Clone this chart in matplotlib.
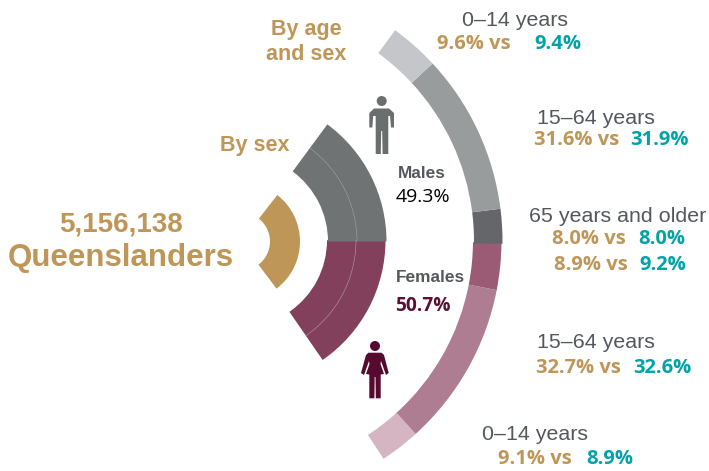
import matplotlib
matplotlib.use("Agg")
import matplotlib.pyplot as plt
from matplotlib.patches import Wedge, Circle, Polygon, Arc

# Data
headline_total = "5,156,138"
headline_name = "Queenslanders"
sex_labels = ["Males", "Females"]
sex_values = ["49.3%", "50.7%"]
sex_sweeps = [53.6, 55.4]              # degrees, above and below the horizontal
sex_colors = ["#6F7373", "#83405C"]

ring_sweeps = [11.0, 35.7, 7.7, 10.5, 36.8, 8.9]   # degrees, top to bottom
ring_colors = ["#C5C6C9", "#999C9C", "#65666A", "#9C5B74", "#AE7D92", "#D5B5C2"]
ring_start = 53.9

age_labels = ["0–14 years", "15–64 years", "65 years and older", "15–64 years", "0–14 years"]
qld_values = ["9.6% vs", "31.6% vs", "8.0% vs", "8.9% vs", "32.7% vs", "9.1% vs"]
other_values = ["9.4%", "31.9%", "8.0%", "9.2%", "32.6%", "8.9%"]

GOLD, TEAL, GREY, PLUM = "#BE9658", "#00A3A8", "#54585D", "#5A0F35"
SANS, NUM = "Liberation Sans", "Open Sans"

W, H = 709, 471
fig = plt.figure(figsize=(W / 100, H / 100), dpi=100)
ax = fig.add_axes([0, 0, 1, 1])
ax.set_xlim(0, W)
ax.set_ylim(H, 0)
ax.axis("off")

UPPER = (241, 241.5)
LOWER = (240, 240.2)


def wedge(top, bottom, r_in, r_out, color, centre):
    # y axis is inverted: a positive picture angle is a negative data angle
    ax.add_patch(Wedge(centre, r_out, -top, -bottom, width=r_out - r_in,
                       facecolor=color, edgecolor="none", lw=0))


# centre gold arc
wedge(52, -53, 29, 59, GOLD, UPPER)

# sex ring (lower half first, the upper half sits on its top edge)
wedge(0, -sex_sweeps[1], 87, 145.5, sex_colors[1], LOWER)
wedge(sex_sweeps[0], 0, 87, 145.5, sex_colors[0], UPPER)
ax.add_patch(Arc(UPPER, 232, 232, theta1=-sex_sweeps[0], theta2=0, color="#A0A4A4", lw=0.4))
ax.add_patch(Arc(LOWER, 232, 232, theta1=0, theta2=sex_sweeps[1], color="#B79CA9", lw=0.4))

# age-by-sex ring, bottom segment first
angles = [ring_start]
for sweep in ring_sweeps:
    angles.append(angles[-1] - sweep)
for i in reversed(range(len(ring_sweeps))):
    centre = UPPER if i < 3 else LOWER
    wedge(angles[i], angles[i + 1], 233, 261.5, ring_colors[i], centre)


def txt(x, y, s, color, size, family=SANS, weight="normal", ha="center"):
    ax.text(x, y, s, color=color, fontsize=size, family=family, weight=weight,
            ha=ha, va="center")


txt(121, 225, headline_total, GOLD, 20, weight="bold")
txt(120.5, 258, headline_name, GOLD, 22.5, weight="bold")
txt(306.5, 29, "By age", GOLD, 15.5, weight="bold")
txt(306.5, 55, "and sex", GOLD, 15.5, weight="bold")
txt(254.5, 145, "By sex", GOLD, 15.5, weight="bold")

txt(421.5, 173, sex_labels[0], GREY, 12.4, weight="bold")
txt(422.5, 197, sex_values[0], "#000000", 14, family=NUM)
txt(430.5, 277, sex_labels[1], GREY, 12.4, weight="bold")
txt(423, 306, sex_values[1], PLUM, 13.8, family=NUM, weight="bold")

# age labels: centre x, centre y
label_pos = [(515.5, 21), (595.5, 118), (618, 216), (595.5, 343), (534.5, 434)]
for (x, y), s in zip(label_pos, age_labels):
    txt(x, y, s, GREY, 15.4)

qld_pos = [(473.5, 44), (577, 140), (588.5, 239), (591, 265), (578, 368), (534.5, 459)]
other_pos = [(558, 44), (659, 140), (662, 239), (663, 265), (662, 368), (610, 459)]
for (x, y), s in zip(qld_pos, qld_values):
    txt(x, y, s, GOLD, 14.5, family=NUM, weight="bold")
for (x, y), s in zip(other_pos, other_values):
    txt(x, y, s, TEAL, 14.5, family=NUM, weight="bold")

# person icons
MAN, WOMAN = "#6A6E6E", "#560A30"
ax.add_patch(Circle((381.7, 101), 5, color=MAN, lw=0))
ax.add_patch(Polygon([(374, 108.5), (389, 108.5), (394, 113), (394, 127.5), (391, 127.5),
                      (390, 116), (388.3, 116), (388.3, 154), (382.6, 154), (382.2, 131),
                      (381.2, 131), (380.8, 154), (375.7, 154), (375.7, 116), (373.2, 116),
                      (372.3, 127.5), (369.3, 127.5), (369.3, 113)],
                     closed=True, facecolor=MAN, edgecolor="none"))
ax.add_patch(Circle((375, 346), 5, color=WOMAN, lw=0))
ax.add_patch(Polygon([(368.5, 352.7), (381.5, 352.7), (384, 355), (388.7, 373), (386, 375),
                      (381, 361), (380.5, 364), (384, 374), (380.7, 374.5), (380.7, 398.3),
                      (375.8, 398.3), (375.5, 377), (374.7, 377), (374.4, 398.3), (369.3, 398.3),
                      (369.3, 374.5), (366, 374), (369.5, 364), (369, 361), (364, 375),
                      (361, 373), (366, 355)],
                     closed=True, facecolor=WOMAN, edgecolor="none"))

fig.savefig("out.png", dpi=100)
